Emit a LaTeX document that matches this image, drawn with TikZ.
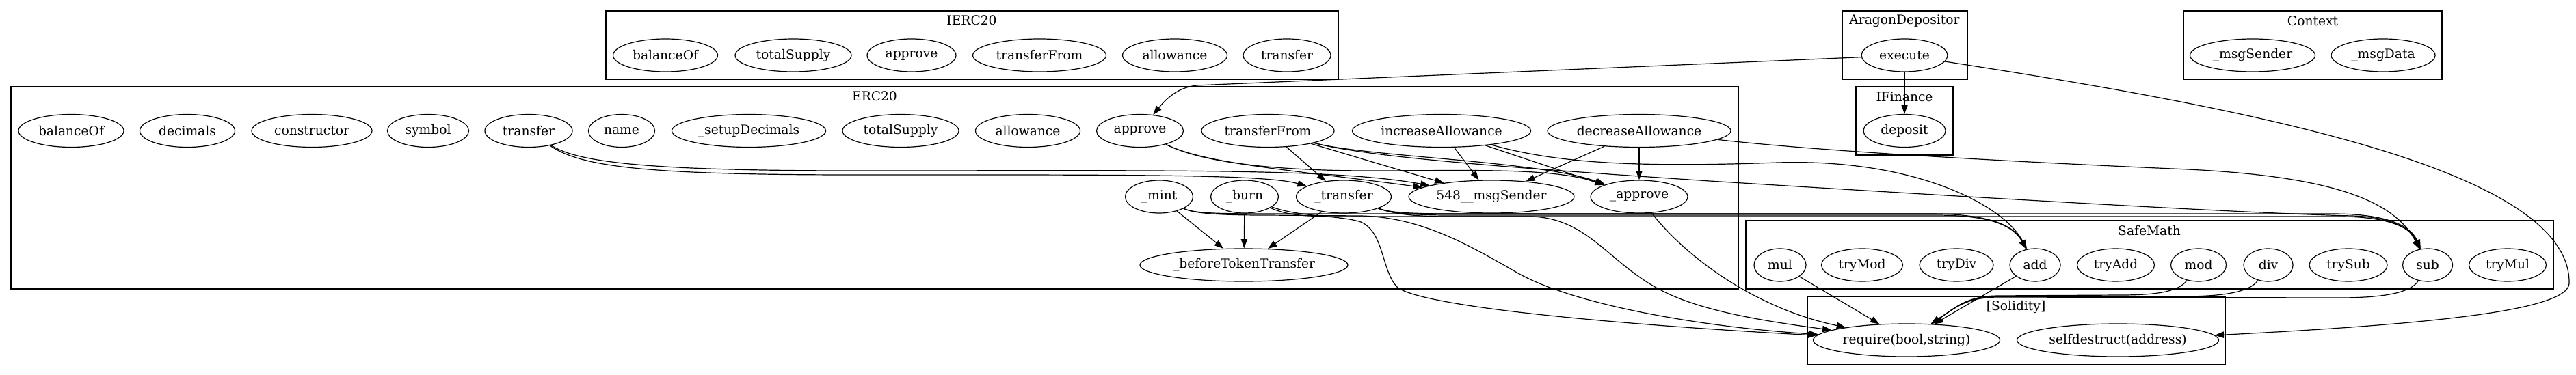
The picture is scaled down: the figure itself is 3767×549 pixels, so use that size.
\documentclass[tikz,border=0pt]{standalone}
\usepackage{fontspec}
\setmainfont{DejaVu Serif}
\usetikzlibrary{arrows.meta,shapes.geometric}

\begin{document}
\begin{tikzpicture}[
  x=0.75pt, y=-0.75pt,
  font=\fontsize{14}{16}\selectfont,
  >={Triangle[length=10pt,width=7pt]},
  fn/.style={ellipse, draw, line width=0.9pt, inner sep=0pt, minimum height=36pt, minimum width=#1*0.75pt},
  cluster/.style={draw, line width=1pt},
  title/.style={inner sep=0pt},
  call/.style={->, line width=0.9pt}
]
\useasboundingbox (0,0) rectangle (3767,549);

\draw[cluster] (886,16) rectangle (1957,116);
\node[title] (lblierc) at (1421,30) {IERC20};
\node[fn=153] (ibalanceof) at (973,81) {balanceOf};
\node[fn=170] (itotalsupply) at (1160,81) {totalSupply};
\node[fn=130] (iapprove) at (1333,81) {approve};
\node[fn=195] (itransferfrom) at (1520,81) {transferFrom};
\node[fn=153] (iallowance) at (1718,81) {allowance};
\node[fn=128] (itransfer) at (1882,81) {transfer};

\draw[cluster] (16,127) rectangle (2542,423);
\node[title] (lblerc) at (1279,141) {ERC20};
\node[fn=154] (balanceof) at (104,191.5) {balanceOf};
\node[fn=139] (decimals) at (274,191.5) {decimals};
\node[fn=176] (constructor) at (456,191.5) {constructor};
\node[fn=119] (symbol) at (626,191.5) {symbol};
\node[fn=128] (transfer) at (773,191.5) {transfer};
\node[fn=97] (name) at (909,191.5) {name};
\node[fn=225] (setupdecimals) at (1095,191.5) {\_setupDecimals};
\node[fn=170] (totalsupply) at (1317,191.5) {totalSupply};
\node[fn=153] (allowance) at (1503,191.5) {allowance};
\node[fn=127] (approve) at (1667,191.5) {approve};
\node[fn=194] (transferfrom) at (1854,191.5) {transferFrom};
\node[fn=261] (incallow) at (2108,191.5) {increaseAllowance};
\node[fn=268] (decallow) at (2397,191.5) {decreaseAllowance};
\node[fn=99] (mint) at (1695,288) {\_mint};
\node[fn=99] (burn) at (1820,288) {\_burn};
\node[fn=139] (xfer) at (1965,288) {\_transfer};
\node[fn=242] (msgsender) at (2181,288) {548\_\_msgSender};
\node[fn=142] (appr) at (2397,288) {\_approve};
\node[fn=304] (beforexfer) at (1819,388) {\_beforeTokenTransfer};

\draw[cluster] (2694,16) rectangle (2877,116);
\node[title] (lblaragon) at (2785,31) {AragonDepositor};
\node[fn=126] (execute) at (2785,81) {execute};

\draw[cluster] (2714,127) rectangle (2856,227);
\node[title] (lblifinance) at (2785,142) {IFinance};
\node[fn=120] (deposit) at (2785,191.5) {deposit};

\draw[cluster] (3193,16) rectangle (3571,116);
\node[title] (lblcontext) at (3382,31) {Context};
\node[fn=183] (ctxsender) at (3294,81) {\_msgSender};
\node[fn=152] (ctxdata) at (3485,81) {\_msgData};

\draw[cluster] (2553,323) rectangle (3734,423);
\node[title] (lblsafemath) at (3143,338) {SafeMath};
\node[fn=76] (mul) at (2603,388) {mul};
\node[fn=119] (trymod) at (2723,388) {tryMod};
\node[fn=108] (trydiv) at (2861,388) {tryDiv};
\node[fn=74] (add) at (2976,388) {add};
\node[fn=113] (tryadd) at (3094,388) {tryAdd};
\node[fn=81] (mod) at (3215,388) {mod};
\node[fn=72] (div) at (3317,388) {div};
\node[fn=114] (trysub) at (3434,388) {trySub};
\node[fn=73] (sub) at (3550,388) {sub};
\node[fn=113] (trymul) at (3667,388) {tryMul};

\draw[cluster] (2643,434) rectangle (3254,534);
\node[title] (lblsolidity) at (2948,449) {[Solidity]};
\node[fn=273] (require) at (2788,498) {require(bool,string)};
\node[fn=295] (selfdestruct) at (3097,498) {selfdestruct(address)};

\draw[call] (execute) -- (1750,125) .. controls (1722,128) and (1705,145) .. (approve);
\draw[call] (execute) -- (deposit);
\draw[call] (execute) .. controls (3300,160) and (3760,250) .. (3757,415) .. controls (3755,455) and (3550,475) .. (selfdestruct);

\draw[call] (transfer) .. controls (850,245) and (950,256) .. (1250,256) .. controls (1650,256) and (1850,255) .. (xfer);
\draw[call] (transfer) .. controls (845,238) and (950,250) .. (1250,250) .. controls (1700,250) and (1950,246) .. (msgsender);
\draw[call] (approve) .. controls (1760,240) and (1900,250) .. (msgsender);
\draw[call] (approve) .. controls (1760,240) and (1880,250) .. (2000,250) .. controls (2150,250) and (2270,245) .. (appr);
\draw[call] (transferfrom) -- (xfer);
\draw[call] (transferfrom) .. controls (1990,232) and (2050,250) .. (msgsender);
\draw[call] (transferfrom) .. controls (2000,230) and (2250,235) .. (appr);
\draw[call] (transferfrom) .. controls (2000,230) and (2200,245) .. (2500,265) .. controls (2900,290) and (3300,313) .. (3440,316) .. controls (3500,318) and (3525,335) .. (sub);
\draw[call] (incallow) -- (msgsender);
\draw[call] (incallow) -- (appr);
\draw[call] (incallow) .. controls (2280,240) and (2400,245) .. (2600,238) .. controls (2800,232) and (2930,300) .. (add);
\draw[call] (decallow) -- (msgsender);
\draw[call] (decallow) -- (appr);
\draw[call] (decallow) .. controls (2650,220) and (2900,235) .. (3200,248) .. controls (3400,258) and (3500,290) .. (sub);

\draw[call] (mint) -- (beforexfer);
\draw[call] (burn) -- (beforexfer);
\draw[call] (xfer) -- (beforexfer);
\draw[call] (mint) .. controls (1745,312) and (1775,313) .. (1850,313) -- (2820,313) .. controls (2910,313) and (2945,330) .. (add);
\draw[call] (xfer) .. controls (2030,310) and (2050,315) .. (2120,315) -- (2830,315) .. controls (2915,315) and (2945,332) .. (add);
\draw[call] (burn) .. controls (1880,314) and (1900,317) .. (1960,317) -- (3420,317) .. controls (3490,317) and (3525,332) .. (sub);
\draw[call] (xfer) .. controls (2030,310) and (2050,313) .. (2120,313) -- (3410,313) .. controls (3490,313) and (3525,330) .. (sub);

\draw[call] (burn) .. controls (1900,318) and (1960,315) .. (1990,325) .. controls (2025,340) and (2020,400) .. (2045,422) .. controls (2100,455) and (2450,480) .. (require);
\draw[call] (mint) .. controls (1745,312) and (1775,315) .. (1850,315) -- (1990,316) .. controls (2080,318) and (2150,360) .. (2220,400) .. controls (2300,445) and (2480,478) .. (require);
\draw[call] (xfer) .. controls (2030,310) and (2050,317) .. (2120,317) -- (2240,317) .. controls (2320,320) and (2350,380) .. (2420,420) .. controls (2480,455) and (2580,470) .. (require);
\draw[call] (appr) .. controls (2460,370) and (2560,450) .. (require);
\draw[call] (mul) -- (require);
\draw[call] (add) -- (require);
\draw[call] (mod) .. controls (3185,428) and (3150,432) .. (3100,432) -- (2920,433) .. controls (2875,434) and (2860,450) .. (require);
\draw[call] (div) .. controls (3290,428) and (3250,434) .. (3190,434) -- (2920,434) .. controls (2875,435) and (2860,450) .. (require);
\draw[call] (sub) .. controls (3525,430) and (3480,436) .. (3420,436) -- (2920,435) .. controls (2875,436) and (2860,450) .. (require);
\end{tikzpicture}
\end{document}
